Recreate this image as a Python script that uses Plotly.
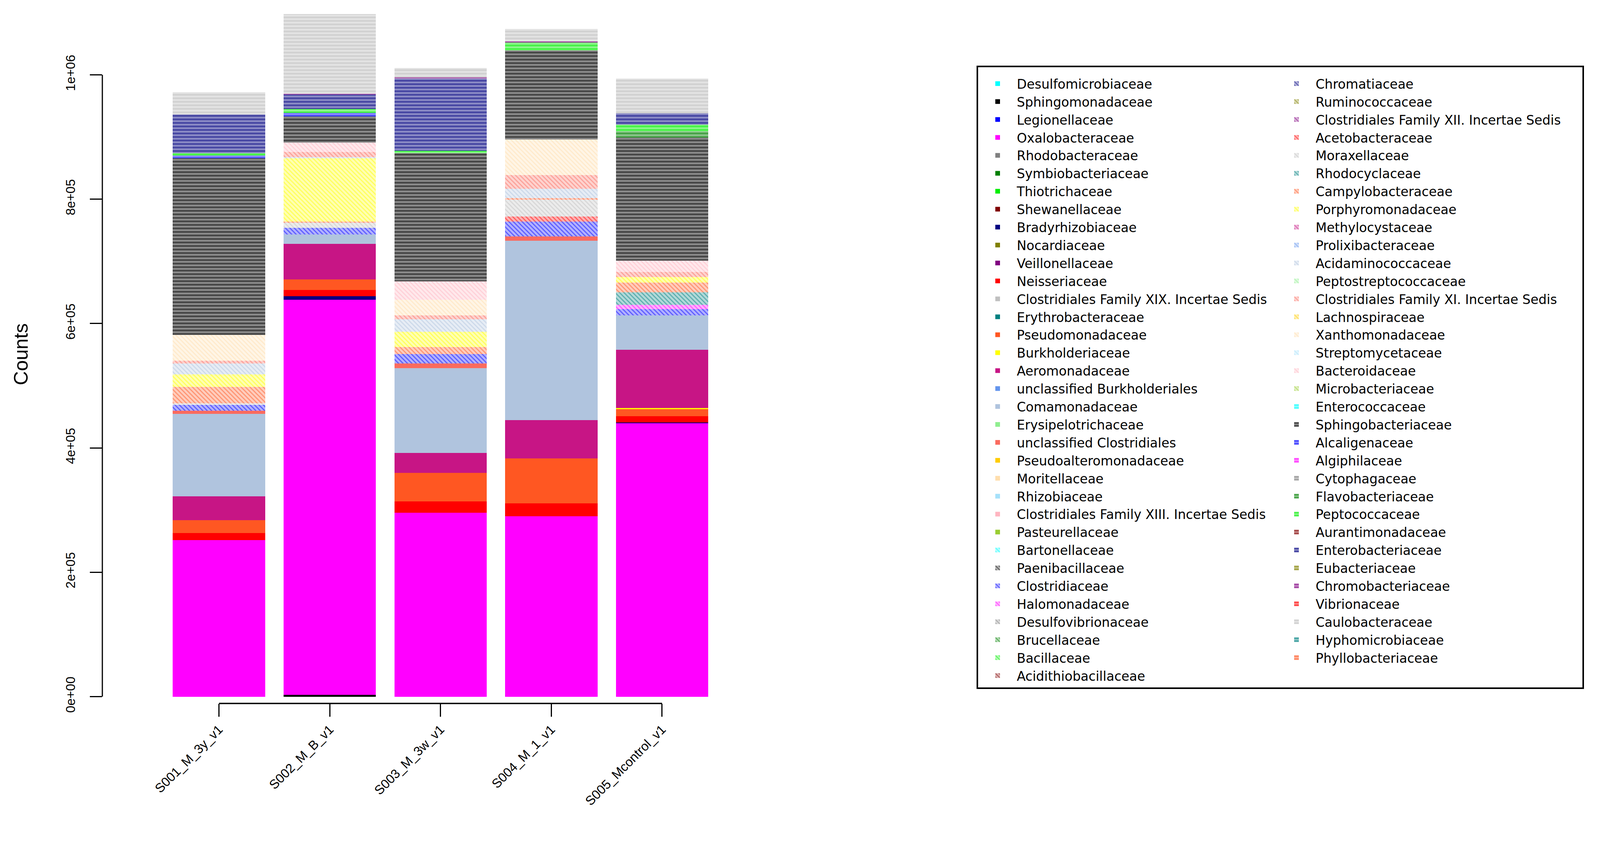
import plotly.graph_objects as go

# samples on the x axis
samples = ["S001_M_3y_v1", "S002_M_B_v1", "S003_M_3w_v1", "S004_M_1_v1", "S005_Mcontrol_v1"]

# families, in legend (and stacking) order
families = [
    "Desulfomicrobiaceae", "Sphingomonadaceae", "Legionellaceae", "Oxalobacteraceae",
    "Rhodobacteraceae", "Symbiobacteriaceae", "Thiotrichaceae", "Shewanellaceae",
    "Bradyrhizobiaceae", "Nocardiaceae", "Veillonellaceae", "Neisseriaceae",
    "Clostridiales Family XIX. Incertae Sedis", "Erythrobacteraceae", "Pseudomonadaceae",
    "Burkholderiaceae", "Aeromonadaceae", "unclassified Burkholderiales", "Comamonadaceae",
    "Erysipelotrichaceae", "unclassified Clostridiales", "Pseudoalteromonadaceae",
    "Moritellaceae", "Rhizobiaceae", "Clostridiales Family XIII. Incertae Sedis",
    "Pasteurellaceae", "Bartonellaceae", "Paenibacillaceae", "Clostridiaceae",
    "Halomonadaceae", "Desulfovibrionaceae", "Brucellaceae", "Bacillaceae",
    "Acidithiobacillaceae", "Chromatiaceae", "Ruminococcaceae",
    "Clostridiales Family XII. Incertae Sedis", "Acetobacteraceae", "Moraxellaceae",
    "Rhodocyclaceae", "Campylobacteraceae", "Porphyromonadaceae", "Methylocystaceae",
    "Prolixibacteraceae", "Acidaminococcaceae", "Peptostreptococcaceae",
    "Clostridiales Family XI. Incertae Sedis", "Lachnospiraceae", "Xanthomonadaceae",
    "Streptomycetaceae", "Bacteroidaceae", "Microbacteriaceae", "Enterococcaceae",
    "Sphingobacteriaceae", "Alcaligenaceae", "Algiphilaceae", "Cytophagaceae",
    "Flavobacteriaceae", "Peptococcaceae", "Aurantimonadaceae", "Enterobacteriaceae",
    "Eubacteriaceae", "Chromobacteriaceae", "Vibrionaceae", "Caulobacteraceae",
    "Hyphomicrobiaceae", "Phyllobacteriaceae",
]

# counts per sample, one value per family (same order as families)
s001 = [0, 0, 0, 252000, 0, 0, 0, 0, 0, 0,
        0, 11000, 0, 0, 21000, 0, 38000, 0, 133000, 0,
        5000, 0, 0, 0, 0, 0, 0, 0, 9000, 0,
        0, 0, 0, 0, 0, 0, 0, 0, 3000, 0,
        26000, 20000, 0, 0, 18000, 0, 4000, 0, 42000, 0,
        0, 0, 0, 284000, 4000, 0, 0, 0, 4000, 0,
        62000, 0, 0, 0, 36000, 0, 0]
s002 = [0, 3000, 0, 635000, 0, 0, 0, 0, 6000, 0,
        0, 10000, 0, 0, 17000, 0, 57000, 0, 15000, 0,
        0, 0, 0, 0, 0, 0, 0, 0, 11000, 0,
        0, 0, 0, 0, 0, 0, 0, 0, 8000, 0,
        2000, 102000, 0, 0, 2000, 0, 8000, 0, 0, 0,
        15000, 0, 0, 42000, 6000, 0, 0, 0, 6000, 0,
        23000, 0, 1500, 0, 128000, 0, 0]
s003 = [0, 0, 0, 296000, 0, 0, 0, 0, 0, 0,
        0, 18000, 0, 0, 46000, 0, 32000, 0, 136000, 0,
        8000, 0, 0, 0, 0, 0, 0, 0, 15000, 0,
        0, 0, 0, 0, 0, 0, 0, 0, 0, 0,
        11000, 25000, 0, 0, 20000, 0, 6000, 0, 25000, 0,
        30000, 0, 0, 206000, 0, 0, 0, 0, 4000, 0,
        116000, 0, 2000, 0, 15000, 0, 0]
s004 = [0, 0, 0, 290000, 0, 0, 0, 0, 0, 0,
        0, 21000, 0, 0, 72000, 0, 62000, 0, 288000, 0,
        7000, 0, 0, 0, 0, 0, 0, 0, 24000, 0,
        0, 0, 0, 0, 0, 0, 0, 8000, 27000, 0,
        3000, 0, 0, 0, 15000, 0, 22000, 0, 57000, 0,
        0, 0, 0, 143000, 0, 0, 0, 0, 13000, 0,
        0, 0, 2000, 0, 20000, 0, 0]
s005 = [0, 0, 0, 440000, 0, 0, 0, 0, 1000, 0,
        0, 10000, 0, 0, 11000, 2000, 94000, 0, 55000, 0,
        0, 0, 0, 0, 0, 0, 0, 0, 10000, 7000,
        0, 0, 0, 0, 0, 0, 0, 0, 0, 20000,
        16000, 9000, 0, 0, 0, 0, 8000, 0, 0, 0,
        18000, 0, 0, 198000, 0, 0, 0, 10000, 11000, 0,
        18000, 0, 0, 0, 56000, 0, 0]
counts = [s001, s002, s003, s004, s005]

ytick_vals = [0, 200000, 400000, 600000, 800000, 1000000]
ytick_text = ["0e+00", "2e+05", "4e+05", "6e+05", "8e+05", "1e+06"]

# 26 colour palette, cycled: solid, then hatched, then horizontal lines
palette = ["#00FFFF", "#000000", "#0000FF", "#FF00FF", "#808080", "#007F00",
           "#00EE00", "#800000", "#000080", "#808000", "#800080", "#FF0000",
           "#C0C0C0", "#008080", "#FF5722", "#FFFF00", "#C71585", "#6495ED",
           "#B0C4DE", "#90EE90", "#FA6B5F", "#FFCC00", "#FFDEAD", "#A6E1FA",
           "#FFB6C1", "#9ACD32"]

# page geometry (css px)
W, H = 4060, 2060
ML, MR, MT, MB = 254, 2203, 5, 268
PW, PH = W - ML - MR, H - MT - MB
N_LEFT = 34  # entries in the first legend column


def px_x(x):
    return (x - ML) / PW


def px_y(y):
    return (H - MB - y) / PH


def tint(hexcol, f):
    # mix a colour with white, f = share of white
    r, g, b = (int(hexcol[k:k + 2], 16) for k in (1, 3, 5))
    return "rgb({},{},{})".format(*(round(v + (255 - v) * f) for v in (r, g, b)))


fig = go.Figure()
for i, fam in enumerate(families):
    c = palette[i % 26]
    kind = i // 26
    if kind == 0:
        pat = dict(shape="")
    elif kind == 1:
        pat = dict(shape="\\", fgcolor=c, bgcolor=tint(c, 0.7), size=8, solidity=0.35)
    else:
        pat = dict(shape="-", fgcolor=c, bgcolor=tint(c, 0.55), size=9, solidity=0.5)
    fig.add_trace(go.Bar(
        x=samples,
        y=[s[i] for s in counts],
        name=fam,
        width=0.834,
        marker=dict(color=c, line_width=0, pattern=pat),
        legend="legend" if i < N_LEFT else "legend2",
    ))

legend_style = dict(
    traceorder="normal",
    itemwidth=88,
    font=dict(family="DejaVu Sans", size=33, color="black"),
    xanchor="left", yanchor="top",
    bgcolor="rgba(0,0,0,0)",
    borderwidth=0,
)

fig.update_layout(
    width=W, height=H,
    barmode="stack",
    plot_bgcolor="white",
    paper_bgcolor="white",
    margin=dict(l=ML, r=MR, t=MT, b=MB, autoexpand=False),
    font=dict(family="Liberation Sans, Arial", color="black"),
    legend=dict(x=px_x(2497), y=px_y(178), **legend_style),
    legend2=dict(x=px_x(3262), y=px_y(178), **legend_style),
    showlegend=True,
)

fig.update_xaxes(
    range=[-1.0533, 4.6],
    showline=False, showgrid=False, zeroline=False,
    ticks="outside", ticklen=33, tickwidth=2.5, tickcolor="black",
    tickangle=-45,
    tickfont=dict(size=33),
)
fig.update_yaxes(
    range=[-11000, 1112200],
    showline=False, showgrid=False, zeroline=False,
    tickvals=ytick_vals, ticktext=ytick_text,
    ticks="outside", ticklen=31, tickwidth=3, tickcolor="black",
    tickangle=-90,
    tickfont=dict(size=33),
    ticklabelstandoff=25,
    title=dict(text="Counts", font=dict(size=50), standoff=74),
)

# R-style axis lines: only between first and last tick
fig.add_shape(type="line", xref="paper", yref="y", x0=0, x1=0,
              y0=ytick_vals[0], y1=ytick_vals[-1], line=dict(color="black", width=3))
fig.add_shape(type="line", xref="x", yref="paper", x0=samples[0], x1=samples[-1],
              y0=0, y1=0, line=dict(color="black", width=3.5))
# legend box
fig.add_shape(type="rect", xref="paper", yref="paper",
              x0=px_x(2494), x1=px_x(4045), y0=px_y(1753), y1=px_y(162),
              line=dict(color="black", width=4), fillcolor="rgba(0,0,0,0)")

fig.write_html("out.html")
